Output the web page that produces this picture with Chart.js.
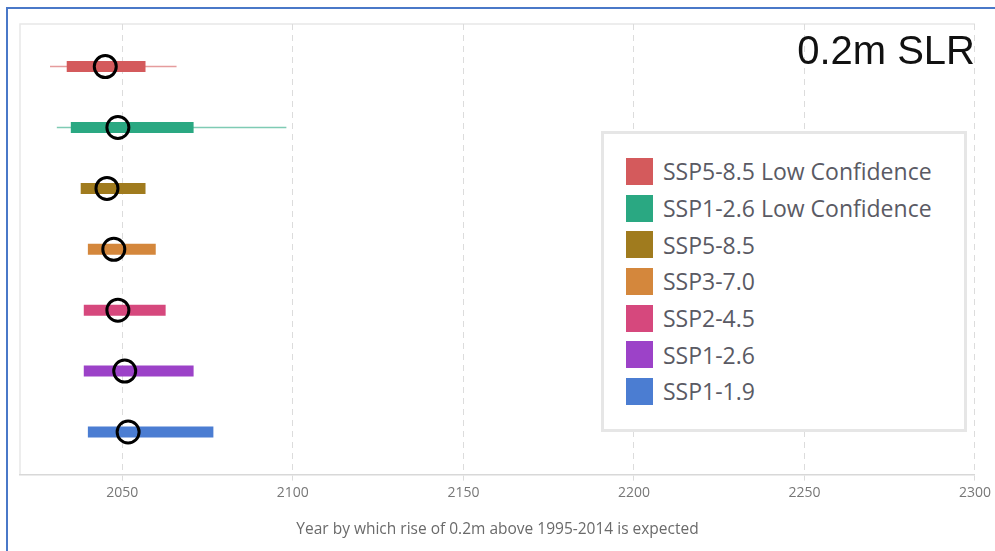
<!DOCTYPE html>
<html>
<head>
<meta charset="utf-8">
<title>0.2m SLR</title>
<script src="https://cdn.jsdelivr.net/npm/chart.js@4"></script>
<style>
  html, body { margin: 0; padding: 0; background: #fff; }
  .wrap { position: relative; width: 995px; height: 551px; overflow: hidden; font-family: 'Open Sans', sans-serif; }
  .frame { position: absolute; left: 6px; top: 7px; width: 1100px; height: 700px; border: 2px solid #4a78c8; box-sizing: border-box; pointer-events: none; }
  canvas { position: absolute; left: 0; top: 0; }
  .slr { position: absolute; right: 20px; top: 30px; font-family: 'Liberation Sans', Arial, sans-serif; font-size: 40px; color: #111; line-height: 1; }
  .legend { position: absolute; left: 601px; top: 131px; width: 366px; height: 301px; border: 3px solid #e6e6e6; box-sizing: border-box; background: #fff; padding: 19px 0 0 22px; }
  .legend div { height: 36.7px; display: flex; align-items: center; font-size: 23px; color: #5a5a64; white-space: nowrap; }
  .legend span { display: inline-block; width: 27px; height: 27px; margin-right: 10px; }
</style>
</head>
<body>
<div class="wrap">
  <canvas id="c" width="995" height="551"></canvas>
  <div class="frame"></div>
  <div class="slr">0.2m SLR</div>
  <div class="legend" id="legend"></div>
</div>
<script>
// scenarios, top row first
const scenarios = ['SSP5-8.5 Low Confidence', 'SSP1-2.6 Low Confidence', 'SSP5-8.5', 'SSP3-7.0', 'SSP2-4.5', 'SSP1-2.6', 'SSP1-1.9'];
const colors = ['#d45a5c', '#2aa882', '#a07b1e', '#d4873c', '#d6487d', '#9c42c8', '#4b7dd2'];
const whiskerColors = ['rgba(212,90,92,0.6)', 'rgba(42,168,130,0.6)', null, null, null, null, null];

// year values
const medianYear = [2045.0, 2048.7, 2045.5, 2047.5, 2048.7, 2050.7, 2051.7];
const boxLow = [2033.7, 2034.9, 2037.8, 2039.9, 2038.7, 2038.7, 2039.9];
const boxHigh = [2056.8, 2070.9, 2056.8, 2059.8, 2062.7, 2070.9, 2076.7];
const whiskerLow = [2028.8, 2030.8, null, null, null, null, null];
const whiskerHigh = [2065.9, 2098.1, null, null, null, null, null];

const xTicks = [2050, 2100, 2150, 2200, 2250, 2300];

const datasets = [];
scenarios.forEach((name, i) => {
  datasets.push({
    label: name + ' median',
    data: [{ x: medianYear[i], y: i }],
    pointRadius: 11,
    pointBorderWidth: 3,
    pointBorderColor: '#000',
    pointBackgroundColor: 'rgba(0,0,0,0)',
    showLine: false,
    order: 0
  });
  datasets.push({
    label: name,
    data: [{ x: boxLow[i], y: i }, { x: boxHigh[i], y: i }],
    borderColor: colors[i],
    borderWidth: 11,
    borderCapStyle: 'butt',
    pointRadius: 0,
    showLine: true,
    order: 1
  });
  if (whiskerLow[i] !== null) {
    datasets.push({
      label: name + ' range',
      data: [{ x: whiskerLow[i], y: i }, { x: whiskerHigh[i], y: i }],
      borderColor: whiskerColors[i],
      borderWidth: 1.5,
      pointRadius: 0,
      showLine: true,
      order: 2
    });
  }
});

const frame = {
  id: 'frame',
  beforeDraw(chart) {
    const a = chart.chartArea, ctx = chart.ctx;
    ctx.save();
    ctx.strokeStyle = '#e8e8e8';
    ctx.lineWidth = 1.5;
    ctx.beginPath();
    ctx.moveTo(a.left, a.bottom);
    ctx.lineTo(a.left, a.top);
    ctx.lineTo(a.right, a.top);
    ctx.stroke();
    ctx.restore();
  }
};

new Chart(document.getElementById('c'), {
  type: 'scatter',
  data: { datasets },
  plugins: [frame],
  options: {
    responsive: false,
    animation: false,
    layout: { padding: { left: 12, top: 24, right: 15, bottom: 12 } },
    plugins: { legend: { display: false }, tooltip: { enabled: false } },
    scales: {
      x: {
        type: 'linear',
        min: 2020,
        max: 2300,
        afterBuildTicks: (s) => { s.ticks = xTicks.map(v => ({ value: v })); },
        grid: { color: '#dcdcdc', lineWidth: 1, tickLength: 6, drawOnChartArea: true },
        border: { color: '#d8d8d8', width: 1.5, dash: [6, 5], dashOffset: 0 },
        ticks: { color: '#777', font: { family: 'Open Sans', size: 14 }, padding: 4, callback: v => String(v) },
        title: { display: true, text: 'Year by which rise of 0.2m above 1995-2014 is expected', color: '#6a6a6a', font: { family: 'Open Sans', size: 15.5 }, padding: { top: 15, bottom: 0 } }
      },
      y: {
        type: 'linear',
        min: -0.7,
        max: 6.7,
        reverse: true,
        grid: { display: false },
        border: { display: false },
        ticks: { display: false }
      }
    }
  }
});

const legend = document.getElementById('legend');
scenarios.forEach((name, i) => {
  const row = document.createElement('div');
  const sw = document.createElement('span');
  sw.style.background = colors[i];
  row.appendChild(sw);
  row.appendChild(document.createTextNode(name));
  legend.appendChild(row);
});
</script>
</body>
</html>
